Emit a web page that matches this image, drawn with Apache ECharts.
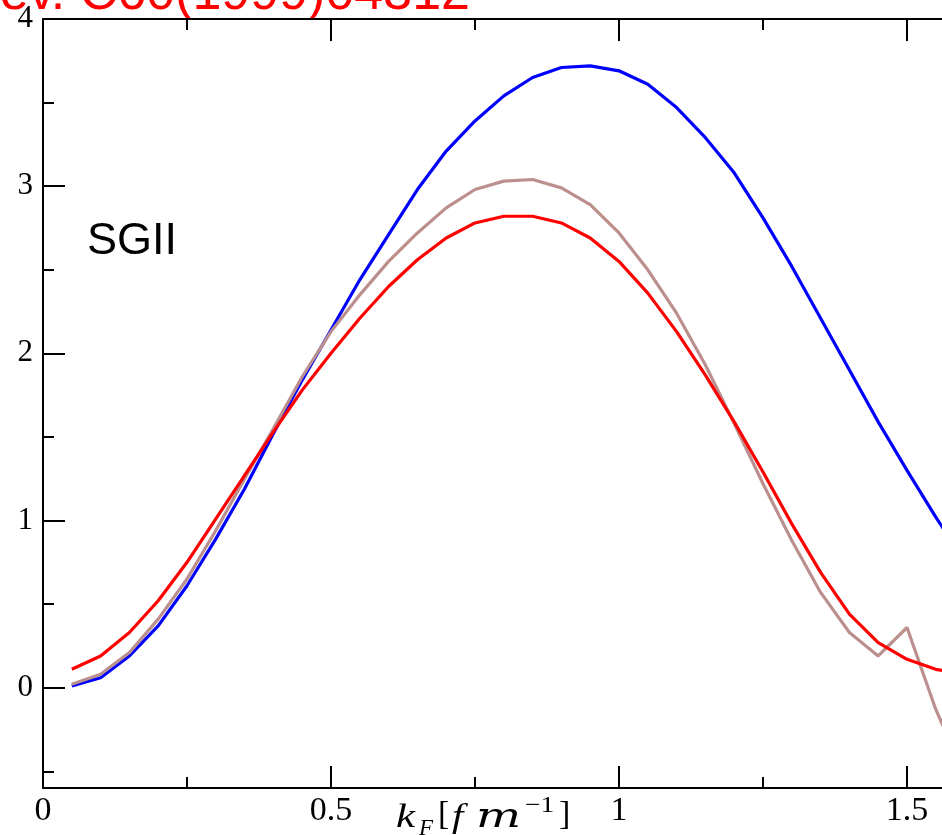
<!DOCTYPE html>
<html>
<head>
<meta charset="utf-8">
<script src="https://cdn.jsdelivr.net/npm/echarts@6/dist/echarts.min.js"></script>
<style>
html, body { margin: 0; padding: 0; background: #fff; }
#chart { width: 942px; height: 835px; }
</style>
</head>
<body>
<div id="chart"></div>
<script>
// k_F 取值 (fm^-1)
var kF = [0.05, 0.10, 0.15, 0.20, 0.25, 0.30, 0.35, 0.40, 0.45, 0.50,
	0.55, 0.60, 0.65, 0.70, 0.75, 0.80, 0.85, 0.90, 0.95, 1.00,
	1.05, 1.10, 1.15, 1.20, 1.25, 1.30, 1.35, 1.40, 1.45, 1.50, 1.55, 1.60];
// 蓝线
var blueVals = [0.01, 0.06, 0.19, 0.37, 0.61, 0.89, 1.19, 1.52, 1.84, 2.14,
	2.44, 2.71, 2.98, 3.21, 3.39, 3.54, 3.65, 3.71, 3.72, 3.69,
	3.61, 3.47, 3.29, 3.08, 2.81, 2.52, 2.21, 1.90, 1.59, 1.30, 1.02, 0.76];
// 红线
var redVals = [0.11, 0.19, 0.33, 0.52, 0.75, 1.01, 1.27, 1.53, 1.78, 2.00,
	2.21, 2.40, 2.56, 2.69, 2.78, 2.82, 2.82, 2.78, 2.69, 2.55,
	2.36, 2.13, 1.87, 1.59, 1.29, 0.98, 0.69, 0.44, 0.27, 0.17, 0.11, 0.08];
// 棕线
var brownVals = [0.02, 0.08, 0.21, 0.41, 0.65, 0.94, 1.25, 1.55, 1.86, 2.13,
	2.35, 2.55, 2.72, 2.87, 2.98, 3.03, 3.04, 2.99, 2.89, 2.72,
	2.50, 2.24, 1.93, 1.58, 1.22, 0.88, 0.57, 0.33, 0.19, 0.36, -0.13, -0.52];

// 刻度
var xMajor = [0, 0.5, 1, 1.5];
var xMinor = [0.25, 0.75, 1.25];
var yMajor = [0, 1, 2, 3, 4];
var yMinor = [-0.5, 0.5, 1.5, 2.5, 3.5];

var serif = "Liberation Serif";
var sans = "Liberation Sans";

function pairs(vals) {
	var out = [];
	for (var i = 0; i < kF.length; i++) {
		out.push([kF[i], vals[i]]);
	}
	return out;
}

function xAxisDef(pos, ticks, len, withLine, withLabel) {
	return {
		type: 'value',
		position: pos,
		min: 0,
		max: 899 / 576,
		axisLine: { show: withLine, onZero: false, lineStyle: { color: '#000', width: 2 } },
		axisTick: { show: true, inside: true, length: len, customValues: ticks, lineStyle: { color: '#000', width: 2 } },
		axisLabel: withLabel ? {
			show: true, customValues: xMajor, margin: 6,
			color: '#000', fontFamily: serif, fontSize: 34
		} : { show: false },
		splitLine: { show: false }
	};
}

function yAxisDef(ticks, len, withLine, withLabel) {
	return {
		type: 'value',
		position: 'left',
		min: -0.6,
		max: 4,
		axisLine: { show: withLine, onZero: false, lineStyle: { color: '#000', width: 2 } },
		axisTick: { show: true, inside: true, length: len, customValues: ticks, lineStyle: { color: '#000', width: 2 } },
		axisLabel: withLabel ? {
			show: true, customValues: yMajor, margin: 10,
			color: '#000', fontFamily: serif, fontSize: 31
		} : { show: false },
		splitLine: { show: false }
	};
}

function txt(x, y, s, size, family, italic, sx) {
	return {
		type: 'text', x: x, y: y, scaleX: sx || 1,
		style: {
			text: s, fill: '#000', fontSize: size, fontFamily: family,
			fontStyle: italic ? 'italic' : 'normal',
			textAlign: 'left', textVerticalAlign: 'middle'
		}
	};
}

var chart = echarts.init(document.getElementById('chart'));
var option = {
	animation: false,
	backgroundColor: '#fff',
	grid: { left: 43, top: 19, width: 899, height: 769, containLabel: false, outerBoundsMode: 'none' },
	xAxis: [
		xAxisDef('bottom', xMajor, 22, true, true),
		xAxisDef('bottom', xMinor, 11, false, false),
		xAxisDef('top', xMajor, 22, true, false),
		xAxisDef('top', xMinor, 11, false, false)
	],
	yAxis: [
		yAxisDef(yMajor, 22, true, true),
		yAxisDef(yMinor, 11, false, false)
	],
	series: [{
		name: 'blue',
		type: 'line',
		data: pairs(blueVals),
		showSymbol: false,
		lineStyle: { color: '#0000ff', width: 3.2 },
		itemStyle: { color: '#0000ff' }
	}, {
		name: 'brown',
		type: 'line',
		data: pairs(brownVals),
		showSymbol: false,
		lineStyle: { color: '#bc8f8f', width: 3.2 },
		itemStyle: { color: '#bc8f8f' }
	}, {
		name: 'red',
		type: 'line',
		data: pairs(redVals),
		showSymbol: false,
		lineStyle: { color: '#ff0000', width: 3.2 },
		itemStyle: { color: '#ff0000' }
	}],
	graphic: [
		// 顶部被截断的红色引用
		{ type: 'text', x: 470, y: -5, style: { text: 'Phys. Rev. C60(1999)04312', fill: '#ff0000', fontSize: 52, fontFamily: sans, textAlign: 'right', textVerticalAlign: 'middle' } },
		txt(87, 242, 'SGII', 45, sans, false),
		// 横轴标题 k_F[fm^-1]
		txt(396, 818, 'k', 33, serif, true, 1.3),
		txt(419, 829, 'F', 23, serif, true),
		txt(438, 815, '[', 34, serif, false),
		txt(452, 818, 'f', 34, serif, true, 1.2),
		txt(476, 818, 'm', 34, 'DejaVu Serif', true, 1.4),
		txt(525, 806, '\u22121', 23, serif, false, 1.2),
		txt(559, 815, ']', 34, serif, false)
	]
};
chart.setOption(option);
</script>
</body>
</html>
